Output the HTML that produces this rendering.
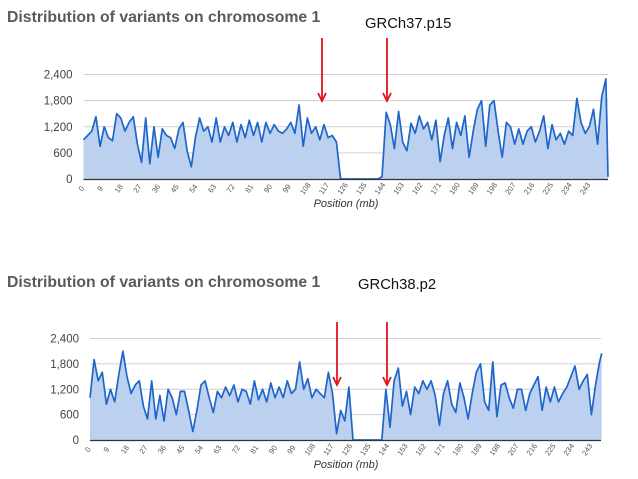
<!DOCTYPE html>
<html><head><meta charset="utf-8">
<style>
html,body{margin:0;padding:0;background:#fff;width:638px;height:479px;overflow:hidden}
svg{display:block}
text{font-family:"Liberation Sans",sans-serif}
</style></head>
<body>
<svg id="s" width="638" height="479"></svg>
<script>
// ---- data ----
const yTicks = [0, 600, 1200, 1800, 2400];
const yTickLabels = ["0", "600", "1,200", "1,800", "2,400"];
const xTicks = [0,9,18,27,36,45,54,63,72,81,90,99,108,117,126,135,144,153,162,171,180,189,198,207,216,225,234,243];
// GRCh37.p15 values every 2 mb from 0 to 252, plus final point at 253
const topPositions = [];
for (let i = 0; i <= 126; i++) topPositions.push(i * 2);
topPositions.push(253);
const topValues = [900,1000,1100,1430,750,1200,950,880,1500,1400,1100,1300,1430,800,380,1400,350,1200,500,1150,1000,950,700,1150,1300,650,280,950,1400,1100,1200,850,1400,850,1200,1000,1300,850,1250,950,1350,1000,1300,850,1300,1050,1250,1100,1050,1150,1300,1050,1700,750,1400,1050,1200,900,1250,950,1000,850,0,0,0,0,0,0,0,0,0,0,50,1530,1250,700,1550,850,650,1280,1050,1450,1150,1300,900,1350,400,1000,1400,700,1300,1000,1450,500,1100,1600,1800,750,1700,1800,1100,500,1300,1200,800,1150,800,1100,1200,850,1100,1450,700,1250,900,1050,800,1100,1000,1850,1300,1050,1200,1600,800,1900,2300,50];
// GRCh38.p2 values every 2 mb from 0 to 248, plus final point at 249
const botPositions = [];
for (let i = 0; i <= 124; i++) botPositions.push(i * 2);
botPositions.push(249);
const botValues = [1000,1900,1400,1600,850,1200,900,1550,2100,1500,1100,1300,1400,800,500,1400,500,1050,450,1200,1000,600,1150,1150,700,200,700,1300,1400,1000,650,1150,1000,1250,1050,1300,900,1200,1150,850,1400,950,1200,900,1350,1000,1250,1000,1400,1100,1200,1850,1200,1450,1000,1200,1100,1000,1600,1100,150,700,450,1250,0,0,0,0,0,0,0,0,1200,300,1400,1700,800,1150,600,1250,1100,1400,1200,1400,1050,350,1100,1400,850,650,1350,1000,500,1100,1600,1800,900,700,1850,550,1300,1350,1000,750,1200,1200,700,1100,1300,1500,700,1250,900,1250,900,1100,1250,1500,1750,1200,1400,1550,600,1300,1850,2050];

const NS = "http://www.w3.org/2000/svg";
const svg = document.getElementById("s");
function el(tag, attrs, parent, txt) {
  const e = document.createElementNS(NS, tag);
  for (const k in attrs) e.setAttribute(k, attrs[k]);
  if (txt !== undefined) e.textContent = txt;
  (parent || svg).appendChild(e);
  return e;
}

function chart(cfg) {
  const g = el("g", {}, svg);
  
  
  const xs = mb => cfg.x0 + mb * cfg.pxPerMb;
  const ys = v => cfg.y0 - v * (cfg.y0 - cfg.y2400) / 2400;
  const t = el("text", {x: 7, y: cfg.titleY, "font-size": 15.8, "font-weight": "bold", fill: "#5a5a5a"}, g, "Distribution of variants on chromosome 1");
  
  
  const a = el("text", {x: cfg.asmX, y: cfg.asmY, "font-size": 14.8, fill: "#111", "font-family": "'DejaVu Sans','Liberation Sans',sans-serif"}, g, cfg.asm);
  
  
  yTicks.forEach((v, i) => {
    if (v > 0) {
      const gl = el("line", {x1: cfg.x0, x2: cfg.xEnd, y1: ys(v), y2: ys(v), stroke: "#cfcfcf", "stroke-width": 1}, g);
      
      
    }
    const lb = el("text", {x: cfg.x0 - 11, y: ys(v) + 4, "font-size": 11.5, fill: "#444", "text-anchor": "end"}, g, yTickLabels[i]);
    
    
  });
  const pos = cfg.positions, vals = cfg.values;
  let d = "M" + xs(pos[0]) + "," + ys(0);
  let ld = "";
  pos.forEach((p, i) => {
    d += " L" + xs(p).toFixed(1) + "," + ys(vals[i]).toFixed(1);
    ld += (i ? " L" : "M") + xs(p).toFixed(1) + "," + ys(vals[i]).toFixed(1);
  });
  d += " L" + xs(pos[pos.length - 1]) + "," + ys(0) + " Z";
  const ar = el("path", {d: d, fill: "#bcd0f0"}, g);
  
  
  const ln = el("path", {d: ld, fill: "none", stroke: "#1f66c9", "stroke-width": 1.7, "stroke-linejoin": "round"}, g);
  
  
  const ax = el("line", {x1: cfg.x0, x2: cfg.xEnd, y1: cfg.y0 + 0.5, y2: cfg.y0 + 0.5, stroke: "#333", "stroke-width": 1.3}, g);
  
  
  xTicks.forEach(m => {
    const x = xs(m), y = cfg.y0 + 11;
    const tl = el("text", {x: x, y: y, "font-size": 7.5, fill: "#555", "text-anchor": "middle", transform: "rotate(-55 " + x + " " + y + ")"}, g, String(m));
    
    
  });
  const xt = el("text", {x: 346, y: cfg.y0 + 28, "font-size": 11, "font-style": "italic", fill: "#333", "text-anchor": "middle"}, g, "Position (mb)");
  
  
  cfg.arrows.forEach(ax2 => {
    const ag = el("g", {}, g);
    
    
    el("line", {x1: ax2, x2: ax2, y1: cfg.arrowTop, y2: cfg.arrowBot - 2, stroke: "#e0141c", "stroke-width": 1.8}, ag);
    el("path", {d: "M" + (ax2 - 4) + "," + (cfg.arrowBot - 8) + " L" + ax2 + "," + cfg.arrowBot + " L" + (ax2 + 4) + "," + (cfg.arrowBot - 8), fill: "none", stroke: "#e0141c", "stroke-width": 1.8}, ag);
  });
}

chart({name: "grch37-chart", x0: 83.5, xEnd: 608, pxPerMb: 2.073, y0: 179, y2400: 74.5,
  titleY: 22, asm: "GRCh37.p15", asmX: 365, asmY: 28, positions: topPositions, values: topValues,
  arrows: [322, 387], arrowTop: 38, arrowBot: 101});
chart({name: "grch38-chart", x0: 90, xEnd: 601, pxPerMb: 2.055, y0: 440, y2400: 338.5,
  titleY: 287, asm: "GRCh38.p2", asmX: 358, asmY: 289, positions: botPositions, values: botValues,
  arrows: [337, 387], arrowTop: 322, arrowBot: 385});
</script>
</body></html>
